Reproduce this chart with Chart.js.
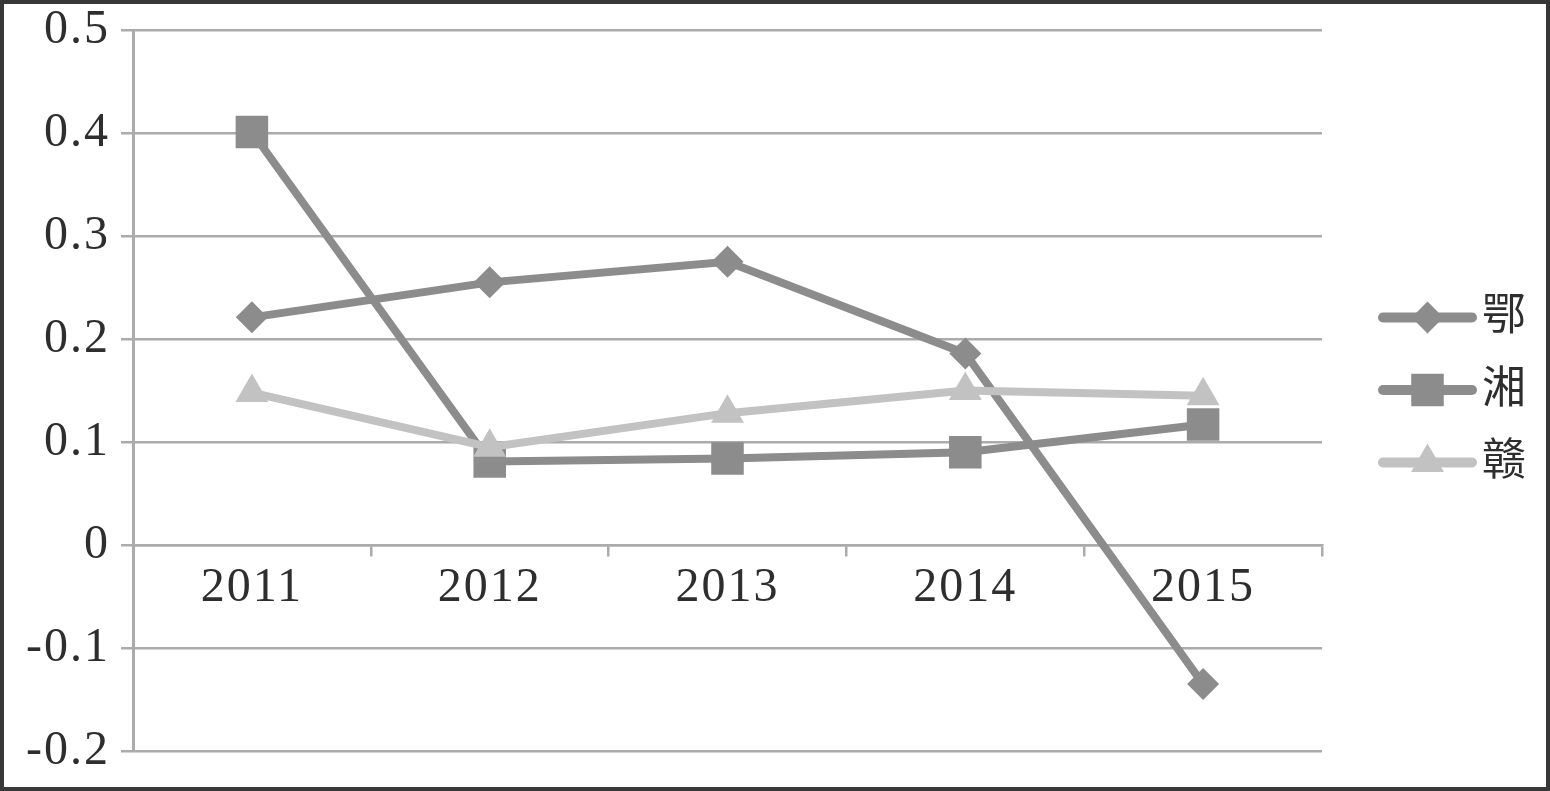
<!DOCTYPE html>
<html>
<head>
<meta charset="utf-8">
<script src="https://cdn.jsdelivr.net/npm/chart.js@4"></script>
<style>
  html, body { margin: 0; padding: 0; background: #fff; }
  #wrap {
    width: 1550px; height: 791px; box-sizing: border-box;
    border: 4px solid #383838; background: #fff;
  }
  canvas { display: block; }
</style>
</head>
<body>
<div id="wrap"><canvas id="lineChart" width="1542" height="783"></canvas></div>
<script>
const years = ['2011', '2012', '2013', '2014', '2015'];
const eValues = [0.221, 0.255, 0.275, 0.186, -0.135];    // 鄂
const xiangValues = [0.401, 0.081, 0.084, 0.090, 0.117]; // 湘
const ganValues = [0.148, 0.095, 0.128, 0.150, 0.145];   // 赣
const yTicks = [-0.2, -0.1, 0, 0.1, 0.2, 0.3, 0.4, 0.5];

const FONT = '"Liberation Serif", "Times New Roman", "Noto Sans CJK SC", serif';
const GRID = '#ababab';
const DARK = '#8c8c8c';
const LIGHT = '#c2c2c2';

const ctx = document.getElementById('lineChart').getContext('2d');

// the source's tick labels are slightly tracked out
const tracking = {
    id: 'tracking',
    beforeDraw(chart) {
        chart.ctx.letterSpacing = '2px';
    }
};

// legend drawn as a line with the marker in the middle, like the source
const sideLegend = {
    id: 'sideLegend',
    afterDraw(chart) {
        const c = chart.ctx;
        const area = chart.chartArea;
        const mid = (area.top + area.bottom) / 2;
        const x0 = area.right + 61, x1 = area.right + 150;
        const items = chart.data.datasets;
        c.save();
        c.letterSpacing = '0px';
        items.forEach((ds, i) => {
            const y = mid - 73 + i * 72.5;
            c.strokeStyle = ds.borderColor;
            c.lineWidth = 10;
            c.lineCap = 'round';
            c.beginPath();
            c.moveTo(x0, y);
            c.lineTo(x1, y);
            c.stroke();
            c.fillStyle = ds.borderColor;
            Chart.helpers.drawPoint(c, {
                pointStyle: ds.pointStyle,
                radius: ds.pointRadius,
                rotation: 0,
                borderWidth: 0
            }, (x0 + x1) / 2, y);
            c.fillStyle = '#2e2e2e';
            c.font = '44px ' + FONT;
            c.textBaseline = 'middle';
            c.textAlign = 'left';
            c.fillText(ds.label, x1 + 10, y + 1);
        });
        c.restore();
    }
};

new Chart(ctx, {
    type: 'line',
    data: {
        labels: years,
        datasets: [{
            label: '鄂',
            data: eValues,
            borderColor: DARK,
            backgroundColor: DARK,
            borderWidth: 8,
            pointStyle: 'rectRot',
            pointRadius: 16,
            pointBorderWidth: 0,
            order: 1
        }, {
            label: '湘',
            data: xiangValues,
            borderColor: DARK,
            backgroundColor: DARK,
            borderWidth: 8,
            pointStyle: 'rect',
            pointRadius: 23,
            pointBorderWidth: 0,
            order: 2
        }, {
            label: '赣',
            data: ganValues,
            borderColor: LIGHT,
            backgroundColor: LIGHT,
            borderWidth: 8,
            pointStyle: 'triangle',
            pointRadius: 19,
            pointBorderWidth: 0,
            order: 0
        }]
    },
    options: {
        responsive: false,
        animation: false,
        layout: { padding: { top: 26, right: 224, bottom: 36, left: 0 } },
        plugins: {
            legend: { display: false },
            tooltip: { enabled: false }
        },
        elements: { line: { tension: 0 } },
        scales: {
            x: {
                position: { y: 0 },
                offset: true,
                grid: {
                    offset: true,
                    drawOnChartArea: false,
                    drawTicks: true,
                    tickLength: 10,
                    color: GRID,
                    lineWidth: 2.5
                },
                border: { display: true, color: GRID, width: 2.5 },
                ticks: {
                    color: '#2e2e2e',
                    font: { family: FONT, size: 48 },
                    padding: 5,
                    maxRotation: 0
                },
                afterFit(scale) {
                    scale.paddingLeft = 0;
                    scale.paddingRight = 0;
                }
            },
            y: {
                min: -0.2,
                max: 0.5,
                afterBuildTicks(scale) {
                    scale.ticks = yTicks.map(v => ({ value: v }));
                },
                grid: {
                    color: GRID,
                    lineWidth: 2.5,
                    tickLength: 12
                },
                border: { display: true, color: GRID, width: 3 },
                ticks: {
                    color: '#2e2e2e',
                    font: { family: FONT, size: 48 },
                    padding: 11,
                    callback: v => String(Number(v.toFixed(1)))
                },
                afterFit(scale) {
                    scale.width = 129;
                    scale.paddingTop = 0;
                    scale.paddingBottom = 0;
                }
            }
        }
    },
    plugins: [tracking, sideLegend]
});
</script>
</body>
</html>
